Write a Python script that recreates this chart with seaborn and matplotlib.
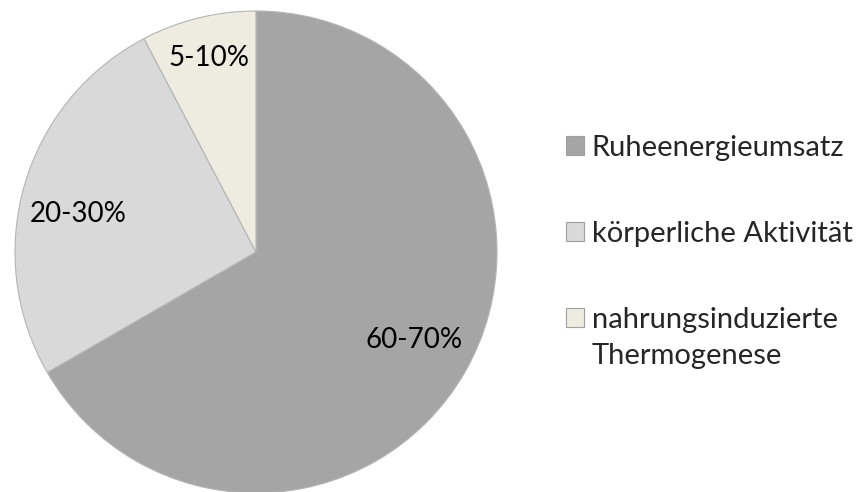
import numpy as np
import matplotlib
matplotlib.use("Agg")
import matplotlib.pyplot as plt
import seaborn as sns

categories = ["Ruheenergieumsatz", "körperliche Aktivität", "nahrungsinduzierte"]
legend_extra = "Thermogenese"
values = [65, 25, 7.5]
labels = ["60-70%", "20-30%", "5-10%"]
label_radius = [0.745, 0.755, 0.84]
label_shift = [1.7, 3.2, -0.4]  # degrees, best-fit placement

sns.set_theme(style="white")
plt.rcParams["font.family"] = ["Lato", "DejaVu Sans"]
colors = sns.color_palette(["#a5a5a5", "#d9d9d9", "#eeece1"])

fig = plt.figure(figsize=(8.61, 4.92), dpi=100)
ax = fig.add_axes([15 / 861, -1 / 492, 482 / 861, 482 / 492])

wedges, _ = ax.pie(values, colors=colors, startangle=90, counterclock=False,
                   wedgeprops=dict(edgecolor="#b4b4b4", linewidth=0.8))
ax.set_xlim(-1, 1)
ax.set_ylim(-1, 1)
ax.set_aspect("equal")

for w, lab, r, s in zip(wedges, labels, label_radius, label_shift):
    ang = np.deg2rad((w.theta1 + w.theta2) / 2 + s)
    ax.text(r * np.cos(ang), r * np.sin(ang), lab, ha="center", va="center_baseline",
            fontsize=20, color="black")

leg = fig.legend(wedges, categories, loc="upper left", bbox_to_anchor=(566 / 861, 1 - 135 / 492),
                 frameon=False, fontsize=21, handlelength=0.6, handleheight=0.6,
                 handletextpad=0.28, labelspacing=2.05, borderpad=0, borderaxespad=0)
for h in leg.legend_handles:
    h.set_edgecolor("#a0a0a0")
    h.set_linewidth(0.8)

# second line of the third legend entry
fig.canvas.draw()
bb = leg.get_texts()[2].get_window_extent()
fig.text(bb.x0 / 861, (bb.y0 - 36) / 492, legend_extra, fontsize=21, ha="left", va="bottom")

plt.savefig("out.png", dpi=100)
